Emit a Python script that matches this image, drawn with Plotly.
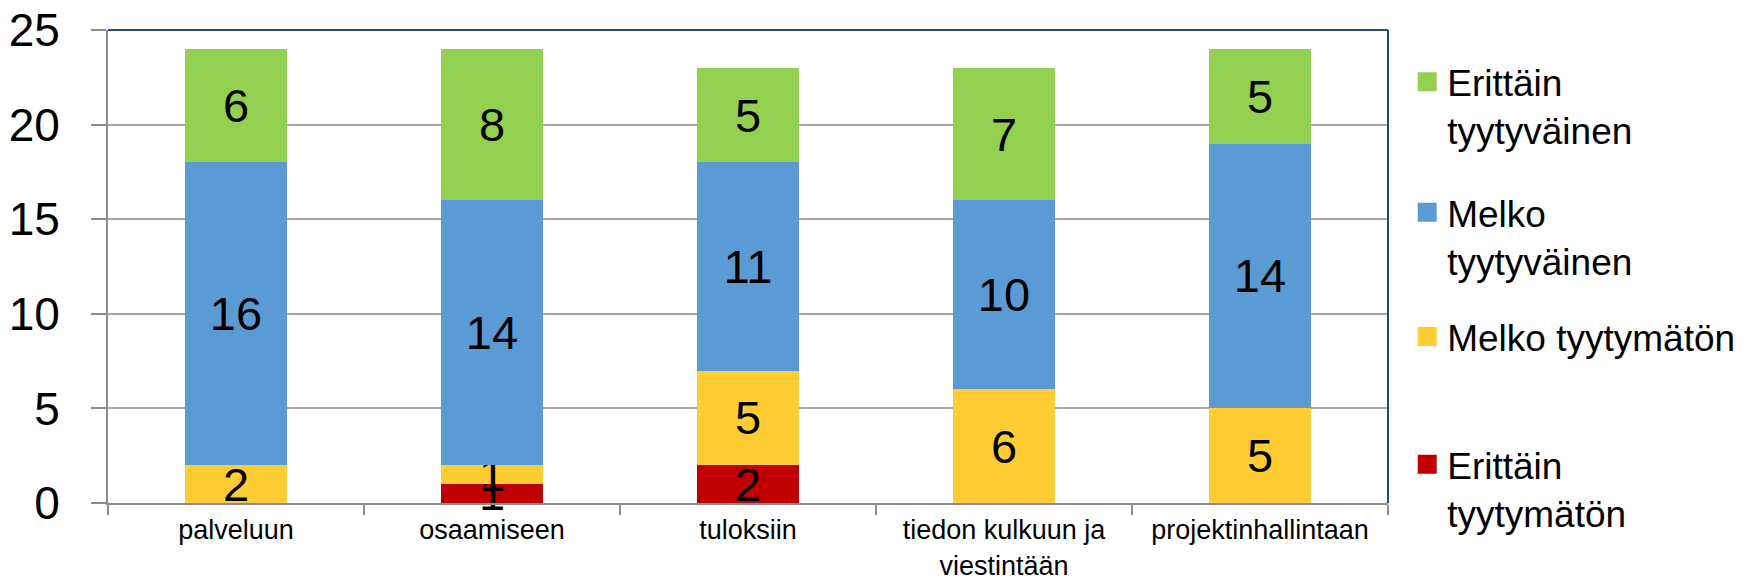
import plotly.graph_objects as go

categories = ["palveluun", "osaamiseen", "tuloksiin", "tiedon kulkuun ja<br>viestintään", "projektinhallintaan"]
series_names = ["Erittäin tyytymätön", "Melko tyytymätön", "Melko tyytyväinen", "Erittäin tyytyväinen"]
legend_labels = ["Erittäin<br>tyytymätön", "Melko tyytymätön", "Melko<br>tyytyväinen", "Erittäin<br>tyytyväinen"]
erittain_tyytymaton = [0, 1, 2, 0, 0]
melko_tyytymaton = [2, 1, 5, 6, 5]
melko_tyytyvainen = [16, 14, 11, 10, 14]
erittain_tyytyvainen = [6, 8, 5, 7, 5]
colors = ["#C00000", "#FFCC33", "#5B9BD5", "#92D050"]
y_ticks = [0, 5, 10, 15, 20, 25]

values = [erittain_tyytymaton, melko_tyytymaton, melko_tyytyvainen, erittain_tyytyvainen]
FONT = "Liberation Sans, Arial, sans-serif"

fig = go.Figure()
for name, vals, col in zip(series_names, values, colors):
    fig.add_trace(go.Bar(
        x=categories, y=vals, name=name, marker_color=col,
        marker_line_width=0,
        text=[str(v) if v else "" for v in vals],
        textposition="inside", insidetextanchor="middle", textangle=0,
        insidetextfont=dict(family=FONT, size=47, color="black"),
        cliponaxis=False, showlegend=False, hoverinfo="x+y+name",
    ))

# legend entries (one legend per entry to mimic the spacing of the original)
legend_pos = {"legend": 0.839, "legend2": 0.563, "legend3": 0.351, "legend4": 0.030}
order = [3, 2, 1, 0]
lkeys = ["legend", "legend2", "legend3", "legend4"]
for key, idx in zip(lkeys, order):
    fig.add_trace(go.Scatter(
        x=[None], y=[None], mode="markers", name=legend_labels[idx],
        marker=dict(symbol="square", size=16, color=colors[idx],
                    line=dict(color=colors[idx], width=3)),
        legend=key, showlegend=True,
    ))

legend_common = dict(x=1.015, xanchor="left", yanchor="middle", valign="top",
                      font=dict(family=FONT, size=37, color="black"),
                      bgcolor="rgba(0,0,0,0)", borderwidth=0, itemsizing="trace")

fig.update_layout(
    barmode="stack", bargap=0.6,
    width=1748, height=583,
    margin=dict(l=108, r=360, t=30, b=80, autoexpand=False),
    paper_bgcolor="white", plot_bgcolor="white",
    font=dict(family=FONT, color="black"),
    uniformtext=dict(mode="show", minsize=47),
    legend=dict(y=legend_pos["legend"], **legend_common),
    legend2=dict(y=legend_pos["legend2"], **legend_common),
    legend3=dict(y=legend_pos["legend3"], **legend_common),
    legend4=dict(y=legend_pos["legend4"], **legend_common),
    xaxis=dict(
        automargin=False,
        showline=True, linecolor="#8C8C8C", linewidth=2,
        ticks="outside", tickson="boundaries", ticklen=10, tickcolor="#8C8C8C", tickwidth=2,
        tickfont=dict(family=FONT, size=27, color="black"),
        ticklabelstandoff=2,
        showgrid=False, zeroline=False,
    ),
    yaxis=dict(
        automargin=False,
        range=[0, 25], tickvals=y_ticks,
        showline=True, linecolor="#8C8C8C", linewidth=2,
        ticks="outside", ticklen=15, tickcolor="#8C8C8C", tickwidth=2,
        showgrid=True, gridcolor="#A6A6A6", gridwidth=2,
        zeroline=False,
        tickfont=dict(family=FONT, size=46, color="black"),
        ticklabelstandoff=22,
    ),
)

# dark blue plot-area border on top and right
fig.add_shape(type="line", xref="x domain", yref="y domain", x0=0, x1=1, y0=1, y1=1,
              line=dict(color="#1F4E79", width=2))
fig.add_shape(type="line", xref="x domain", yref="y domain", x0=1, x1=1, y0=0, y1=1,
              line=dict(color="#1F4E79", width=2))

fig.write_html("out.html", config={"displayModeBar": False},
               post_script="document.body.style.margin='0';")
